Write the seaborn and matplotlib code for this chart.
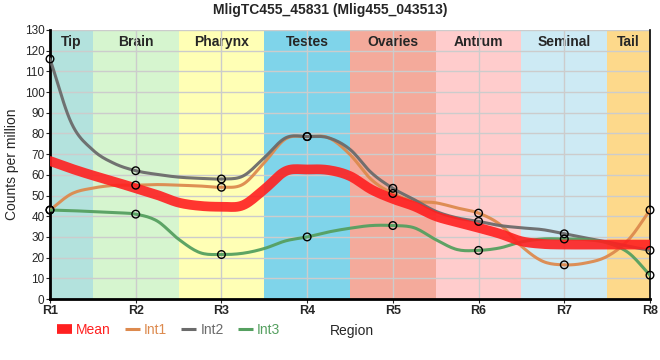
import numpy as np
import pandas as pd
import matplotlib
matplotlib.use('Agg')
import matplotlib.pyplot as plt
from matplotlib.lines import Line2D
import seaborn as sns

regions = ['R1', 'R2', 'R3', 'R4', 'R5', 'R6', 'R7', 'R8']
pos = np.arange(1, 8.01, 0.25)
int1 = [43, 50.8, 53.6, 54.9, 55, 55.3, 55, 54.6, 54, 55.4, 65.9, 77.4, 78.5,
        77.9, 69.8, 57.7, 51, 47.3, 46.5, 44, 41.5, 36, 25.5, 18.2, 16.5,
        17.4, 20.6, 28.7, 43]
int2 = [116, 85, 72, 65.5, 62, 60.2, 58.9, 58.3, 58, 59.4, 68.3, 77.9, 78.5,
        77.9, 72.3, 61, 53.5, 48, 42.4, 39.2, 37.5, 35.5, 34.4, 33.5, 31.5,
        29.5, 27.6, 25.5, 23.5]
int3 = [43, 42.7, 42.2, 41.7, 41, 37.7, 28.9, 22.4, 21.5, 22.1, 24.4, 28.1, 30,
        32.4, 34.2, 35.5, 35.5, 34.4, 28.7, 23.9, 23.5, 24.7, 27.6, 29, 29,
        28.7, 27.1, 22.3, 11.5]
mean = [66.7, 63, 59.7, 56.7, 53.5, 50.3, 46.6, 45, 44.6, 45.3, 53, 61.8, 62.6,
        62.3, 59.4, 52.9, 48.4, 44.8, 40, 37.1, 34.4, 31.5, 27.9, 26.6, 26.3,
        26.3, 26.3, 26.3, 26.3]

tissues = ['Tip', 'Brain', 'Pharynx', 'Testes', 'Ovaries', 'Antrum', 'Seminal', 'Tail']
band_edges = [1, 1.5, 2.5, 3.5, 4.5, 5.5, 6.5, 7.5, 8]
band_colors = ['#b3e2dd', '#d6f5cf', '#ffffb5', '#7fd4ea', '#f4aa9b',
               '#ffcccc', '#cdeaf4', '#fdd98b']

series_colors = {'Mean': '#ff2020', 'Int1': '#dd8a4e', 'Int2': '#6b6b6b', 'Int3': '#55a060'}


def smooth(x, y, n=12):
    # catmull-rom style hermite curve, only used to draw the line smoothly
    x = np.asarray(x, float)
    y = np.asarray(y, float)
    m = np.gradient(y, x)
    xs, ys = [], []
    for i in range(len(x) - 1):
        h = x[i + 1] - x[i]
        u = np.linspace(0, 1, n)
        h00 = 2 * u ** 3 - 3 * u ** 2 + 1
        h10 = u ** 3 - 2 * u ** 2 + u
        h01 = -2 * u ** 3 + 3 * u ** 2
        h11 = u ** 3 - u ** 2
        xs.append(x[i] + u * h)
        ys.append(h00 * y[i] + h10 * h * m[i] + h01 * y[i + 1] + h11 * h * m[i + 1])
    return np.concatenate(xs), np.concatenate(ys)


xpos = np.arange(1, len(regions) + 1)
on_region = np.isclose(pos % 1, 0)
curves = []
points = []
for name, vals in [('Mean', mean), ('Int1', int1), ('Int2', int2), ('Int3', int3)]:
    cx, cy = smooth(pos, vals)
    curves.append(pd.DataFrame({'x': cx, 'y': cy, 'series': name}))
    if name != 'Mean':
        points.append(pd.DataFrame({'x': pos[on_region], 'y': np.asarray(vals)[on_region],
                                    'series': name}))
curve_df = pd.concat(curves, ignore_index=True)
point_df = pd.concat(points, ignore_index=True)

sns.set_style('white')
plt.rcParams['font.family'] = ['Liberation Sans', 'DejaVu Sans']

fig = plt.figure(figsize=(6.6, 3.6), dpi=100)
ax = fig.add_axes([50 / 660, 1 - 299 / 360, 600 / 660, 269 / 360])

for i, t in enumerate(tissues):
    ax.axvspan(band_edges[i], band_edges[i + 1], color=band_colors[i], lw=0, zorder=0)
    ax.text((band_edges[i] + band_edges[i + 1]) / 2, 124.3, t, ha='center', va='center',
            fontsize=10, fontweight='bold', zorder=1)

for yv in range(10, 131, 10):
    ax.axhline(yv, color='#cccccc', lw=1, zorder=1)
for xv in xpos:
    ax.axvline(xv, color='#cccccc', lw=1, zorder=1)

widths = {'Mean': 7, 'Int1': 2.2, 'Int2': 2.2, 'Int3': 2.2}
for name in ['Int1', 'Int2', 'Int3', 'Mean']:
    sns.lineplot(data=curve_df[curve_df.series == name], x='x', y='y', color=series_colors[name],
                 lw=widths[name], alpha=0.9 if name == 'Mean' else 0.95, sort=False,
                 ax=ax, zorder=3, legend=False)

sns.scatterplot(data=point_df, x='x', y='y', s=30, facecolor='none', edgecolor='black',
                linewidth=1, ax=ax, zorder=5, clip_on=False, legend=False)

ax.set_xlim(1, 8)
ax.set_ylim(0, 130)
ax.set_yticks(range(0, 131, 10))
ax.set_xticks(xpos)
ax.set_xticklabels(regions, fontweight='bold')
ax.tick_params(axis='y', labelsize=8.5, length=3, direction='out', left=True, pad=1)
ax.tick_params(axis='x', labelsize=9, length=3, direction='out', bottom=True, pad=1.5)
ax.set_xlabel('')
ax.set_ylabel('Counts per million', fontsize=10, labelpad=4)
for side in ['left', 'bottom']:
    ax.spines[side].set_linewidth(2)
    ax.spines[side].set_color('black')
ax.spines['right'].set_color('black')
ax.spines['right'].set_linewidth(1.2)
ax.spines['top'].set_visible(False)

order = ['Mean', 'Int1', 'Int2', 'Int3']
handles = [Line2D([], [], color=series_colors[k], lw=7 if k == 'Mean' else 2.2,
                  solid_capstyle='butt') for k in order]
leg = fig.legend(handles, order, loc='center left',
                 bbox_to_anchor=(44 / 660, 1 - 330 / 360), ncol=4, frameon=False,
                 handlelength=1.1, handletextpad=0.3, columnspacing=1.0, fontsize=10)
for txt, k in zip(leg.get_texts(), order):
    txt.set_color(series_colors[k])
fig.text(352 / 660, 1 - 331 / 360, 'Region', ha='center', va='center', fontsize=10)

fig.suptitle('MligTC455_45831 (Mlig455_043513)', x=0.5, y=1 - 10 / 360, va='center',
             fontsize=10, fontweight='bold')

fig.savefig('out.png', dpi=100)
